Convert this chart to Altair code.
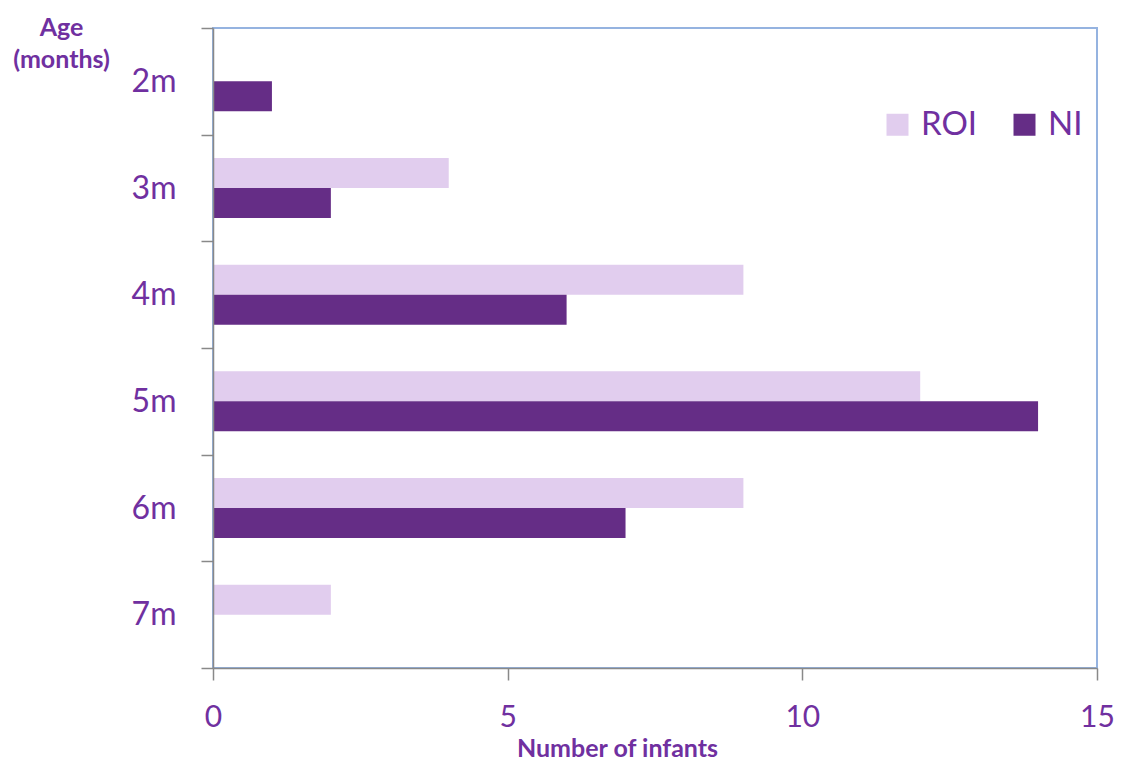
import altair as alt
import pandas as pd

ages = ["2m", "3m", "4m", "5m", "6m", "7m"]
roi = [0, 4, 9, 12, 9, 2]
ni = [1, 2, 6, 14, 7, 0]
groups = ["ROI", "NI"]
x_ticks = [0, 5, 10, 15]

rows = []
for a, r, n in zip(ages, roi, ni):
    rows.append({"age": a, "group": "ROI", "value": r})
    rows.append({"age": a, "group": "NI", "value": n})
df = pd.DataFrame(rows)

PURPLE = "#7030A0"
GRAY = "#898989"
FONT = "Lato"

chart = alt.Chart(df).mark_bar().encode(
    x=alt.X("value:Q",
            scale=alt.Scale(domain=[0, 15], nice=False),
            axis=alt.Axis(values=x_ticks, title="Number of infants",
                          grid=False, tickSize=12, labelPadding=22,
                          labelFontSize=30, labelFlush=False,
                          titleFontSize=25, zindex=1,
                          titleFontWeight="bold", titleX=404, titleY=80,
                          titleBaseline="middle")),
    y=alt.Y("age:N", sort=ages,
            scale=alt.Scale(paddingInner=0, paddingOuter=0),
            axis=alt.Axis(title=["Age", "(months)"], titleAngle=0,
                          titleX=-152, titleY=-13, titleAlign="center",
                          titleBaseline="top", titleLineHeight=32,
                          titleFontSize=25, titleFontWeight="bold",
                          tickBand="extent", tickSize=12, labelPadding=25,
                          labelFontSize=32, grid=False, zindex=1)),
    yOffset=alt.YOffset("group:N", sort=groups,
                        scale=alt.Scale(domain=groups, paddingInner=0, paddingOuter=0.778)),
    color=alt.Color("group:N",
                    scale=alt.Scale(domain=groups, range=["#E1CDEE", "#652D86"]),
                    legend=alt.Legend(title=None, orient="none", direction="horizontal",
                                      legendX=668, legendY=80, symbolType="square",
                                      symbolSize=484, symbolStrokeWidth=0,
                                      labelFontSize=33, labelOffset=7,
                                      columnPadding=30, labelColor=PURPLE,
                                      labelFont=FONT)),
).properties(
    width=884, height=640,
    autosize=alt.AutoSizeParams(type="none"),
    padding={"left": 205, "top": 20, "right": 17, "bottom": 94},
).configure_view(
    stroke="#95B3E0", strokeWidth=2
).configure_axis(
    domainColor=GRAY, tickColor=GRAY, domainWidth=1.5, tickWidth=1.5,
    labelColor=PURPLE, titleColor=PURPLE, labelFont=FONT, titleFont=FONT,
)

chart.save("out.html", embed_options={"renderer": "svg", "actions": False})
